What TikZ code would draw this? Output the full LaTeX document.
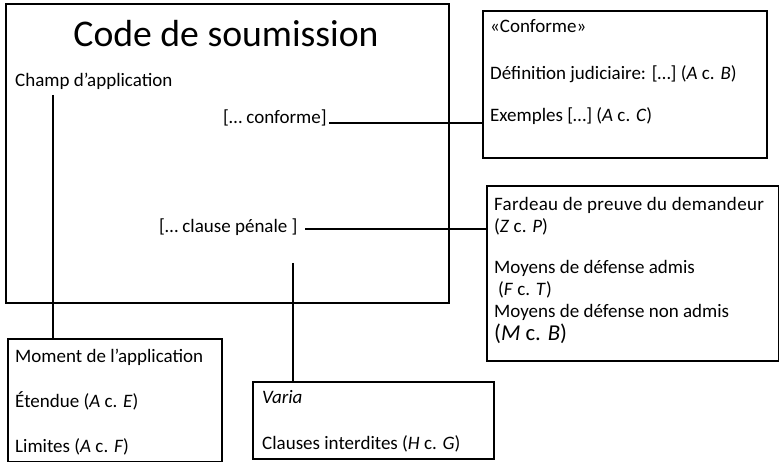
\documentclass[tikz,border=0pt]{standalone}
\usepackage{fontspec}
\setmainfont{Carlito}
\newfontfamily\largefont{Carlito}[LetterSpace=1.6]
\usetikzlibrary{calc}
\tikzset{
  box/.style={draw, line width=2pt, anchor=north west, inner sep=0pt},
  txt/.style={anchor=base west, inner sep=0pt, font=\fontsize{19}{23}\selectfont},
  link/.style={line width=2pt}
}

\begin{document}
\begin{tikzpicture}[x=1pt, y=-1pt]
			%%%%% START %%%%%
			\useasboundingbox (0, 0) rectangle (779, 462);
			
			\node[box, minimum width=443pt, minimum height=299pt] (code) at (5, 3) {};
			\node[anchor=base, inner sep=0pt, font=\fontsize{37.7}{44}\selectfont] (titre) at (226, 47) {Code de soumission};
			\node[txt] (champ) at (15, 87) {Champ d’application};
			\node[txt] (conforme) at (223, 124) {[… conforme]};
			\node[txt] (penale) at (159, 233) {[… clause pénale ]};
			
			\node[box, minimum width=284pt, minimum height=147pt] (conf) at (482, 10) {};
			\node[txt] (conf1) at (490, 33) {«Conforme»};
			\node[txt] (conf2) at (490, 80) {Définition judiciaire: […] (\textit{A} c. \textit{B})};
			\node[txt] (conf3) at (490, 122) {Exemples […] (\textit{A} c. \textit{C})};
			
			\node[box, minimum width=292pt, minimum height=175pt] (defense) at (486, 185) {};
			\node[txt, font=\largefont\fontsize{19}{23}\selectfont] (def1) at (494, 211) {Fardeau de preuve du demandeur};
			\node[txt] (def2) at (494, 233) {(\textit{Z} c. \textit{P})};
			\node[txt] (def3) at (494, 274) {Moyens de défense admis};
			\node[txt] (def4) at (498, 296) {(\textit{F} c. \textit{T})};
			\node[txt] (def5) at (494, 317) {Moyens de défense non admis};
			\node[txt, font=\fontsize{22.7}{27}\selectfont] (def6) at (494, 340) {(\textit{M} c. \textit{B})};
			
			\node[box, minimum width=214pt, minimum height=123pt] (moment) at (7, 338) {};
			\node[txt] (mom1) at (15, 362) {Moment de l’application};
			\node[txt] (mom2) at (15, 407) {Étendue (\textit{A} c. \textit{E})};
			\node[txt] (mom3) at (15, 452) {Limites (\textit{A} c. \textit{F})};
			
			\node[box, minimum width=241pt, minimum height=77pt] (varia) at (252, 381) {};
			\node[txt] (var1) at (262, 403) {\textit{Varia}};
			\node[txt] (var2) at (262, 449) {Clauses interdites (\textit{H} c. \textit{G})};
			
			% liens
			\coordinate (a) at (53, 95);
			\coordinate (b) at (329, 123);
			\coordinate (c) at (305, 229);
			\coordinate (d) at (293, 263);
			\draw[link] (a) -- (a |- moment.north);
			\draw[link] (b) -- (b -| conf.west);
			\draw[link] (c) -- (c -| defense.west);
			\draw[link] (d) -- (d |- varia.north);
			
			%%%%% END %%%%%
\end{tikzpicture}
\end{document}
